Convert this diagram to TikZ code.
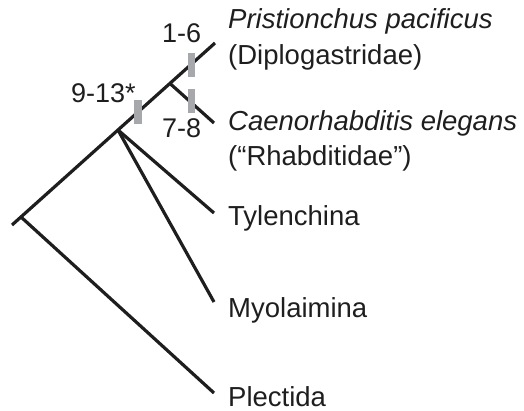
\documentclass[tikz,border=0pt]{standalone}
\usepackage{fontspec}
\setmainfont{Liberation Sans}
\definecolor{bargray}{RGB}{166,168,171}
\definecolor{ink}{RGB}{30,30,30}
\begin{document}
\begin{tikzpicture}[x=1pt,y=-1pt,
  branch/.style={draw=ink,line width=3.2pt},
  taxon/.style={anchor=base west,inner sep=0pt,text=ink,font=\fontsize{27.5}{33}\selectfont},
  marklabel/.style={anchor=base west,inner sep=0pt,text=ink,font=\fontsize{27}{33}\selectfont},
  bar/.style={fill=bargray,inner sep=0pt,minimum width=7.5pt,minimum height=24pt}]
\useasboundingbox (0,0) rectangle (524,411);
% tree coordinates
\coordinate (r0) at (12,225);
\coordinate (n0) at (21,217);
\coordinate (n1) at (118,130);
\coordinate (n2) at (170,83.5);
\coordinate (tp) at (215,43);
\coordinate (tc) at (214,123);
\coordinate (tty) at (214,213);
\coordinate (tmy) at (214,302);
\coordinate (tpl) at (214,393);
% branches
\draw[branch] (r0) -- (tp);
\draw[branch] (n0) -- (tpl);
\draw[branch] (n1) -- (tty);
\draw[branch] (n1) -- (tmy);
\draw[branch] (n2) -- (tc);
% bars
\node[bar] (b16) at (191.5,65) {};
\node[bar] (b78) at (191.5,101) {};
\node[bar] (b913) at (138,112.5) {};
% bar labels
\node[marklabel] (l16) at (162,43) {1-6};
\node[marklabel] (l78) at (162,138) {7-8};
\node[marklabel] (l913) at (71,103) {9-13*};
% taxa
\node[taxon] (pp) at (228,29) {\itshape Pristionchus pacificus};
\node[taxon] (pp2) at (228,65) {(Diplogastridae)};
\node[taxon] (ce) at (228,131) {\itshape Caenorhabditis elegans};
\node[taxon] (ce2) at (228,166) {(“Rhabditidae”)};
\node[taxon] (ty) at (228,226) {Tylenchina};
\node[taxon] (my) at (228,317) {Myolaimina};
\node[taxon] (pl) at (228,406) {Plectida};
\end{tikzpicture}
\end{document}
